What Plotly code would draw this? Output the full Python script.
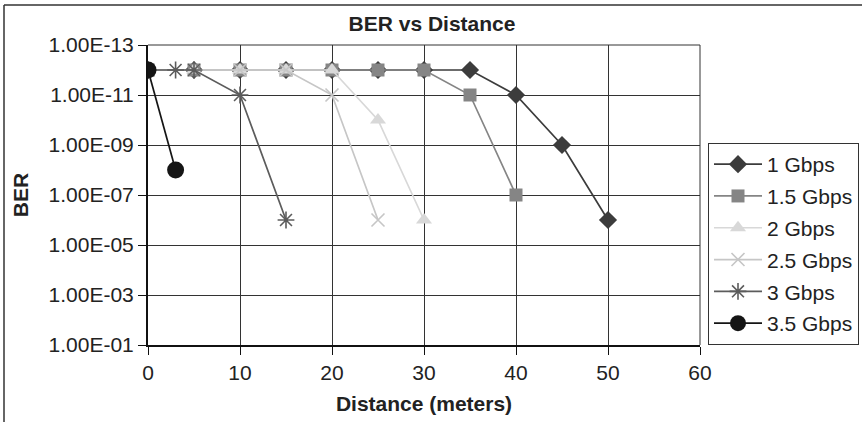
import plotly.graph_objects as go

# Data
series_names = ["1 Gbps", "1.5 Gbps", "2 Gbps", "2.5 Gbps", "3 Gbps", "3.5 Gbps"]
x_1 = [0, 5, 10, 15, 20, 25, 30, 35, 40, 45, 50]
y_1 = [1e-12, 1e-12, 1e-12, 1e-12, 1e-12, 1e-12, 1e-12, 1e-12, 1e-11, 1e-9, 1e-6]
x_15 = [0, 5, 10, 15, 20, 25, 30, 35, 40]
y_15 = [1e-12, 1e-12, 1e-12, 1e-12, 1e-12, 1e-12, 1e-12, 1e-11, 1e-7]
x_2 = [0, 5, 10, 15, 20, 25, 30]
y_2 = [1e-12, 1e-12, 1e-12, 1e-12, 1e-12, 1e-10, 1e-6]
x_25 = [0, 5, 10, 15, 20, 25]
y_25 = [1e-12, 1e-12, 1e-12, 1e-12, 1e-11, 1e-6]
x_3 = [0, 3, 5, 10, 15]
y_3 = [1e-12, 1e-12, 1e-12, 1e-11, 1e-6]
x_35 = [0, 3]
y_35 = [1e-12, 1e-8]

y_tickvals = [1e-13, 1e-11, 1e-9, 1e-7, 1e-5, 1e-3, 1e-1]
y_ticktext = ["1.00E-13", "1.00E-11", "1.00E-09", "1.00E-07", "1.00E-05", "1.00E-03", "1.00E-01"]
x_tickvals = [0, 10, 20, 30, 40, 50, 60]

xs = [x_1, x_15, x_2, x_25, x_3, x_35]
ys = [y_1, y_15, y_2, y_25, y_3, y_35]
colors = ["#3c3c3c", "#858585", "#d8d8d8", "#c6c6c6", "#5c5c5c", "#151515"]
symbols = ["diamond", "square", "triangle-up", "x-thin-open", "asterisk-open", "circle"]
sizes = [14, 13, 14, 13, 14, 17]

fig = go.Figure()
for i, (name, x, y, c, s, sz) in enumerate(zip(series_names, xs, ys, colors, symbols, sizes)):
    mk = dict(symbol=s, size=sz, color=c)
    if s in ("x-thin-open", "asterisk-open"):
        mk["line"] = dict(color=c, width=1.6)
    else:
        mk["line"] = dict(width=0)
    fig.add_trace(go.Scatter(x=x, y=y, name=name, mode="lines+markers", legendgroup=f"g{i}",
                             line=dict(color=c, width=1.7), marker=mk))

W, H = 862, 422
L, R, T, B = 148, 700, 45, 345
def px(p):
    return (p - L) / (R - L)
def py(p):
    return (B - p) / (B - T)

FS = 21
font = "Liberation Sans, Arial, sans-serif"
fig.update_layout(
    width=W, height=H,
    margin=dict(l=L, r=W - R, t=T, b=H - B, autoexpand=False),
    paper_bgcolor="white", plot_bgcolor="white",
    font=dict(family=font, size=FS, color="#222"),
    title=dict(text="<b>BER vs Distance</b>", x=432 / W, xanchor="center",
               y=1 - 24 / H, yanchor="middle", font=dict(size=FS, color="#222")),
    showlegend=True,
    legend=dict(x=px(708), xanchor="left", y=0, yanchor="bottom",
                bordercolor="#333", borderwidth=1, bgcolor="white",
                font=dict(size=FS, color="#222"), tracegroupgap=1.5, itemwidth=48),
    xaxis=dict(range=[0, 60], tickvals=x_tickvals, showgrid=True,
               gridcolor="#333", gridwidth=1, showline=True, linecolor="#111",
               linewidth=2, ticks="outside", ticklen=8, tickcolor="#111",
               zeroline=False, tickfont=dict(size=FS),
               title=dict(text="<b>Distance (meters)</b>", font=dict(size=FS), standoff=13)),
    yaxis=dict(type="log", range=[-1, -13], tickvals=y_tickvals, ticktext=y_ticktext,
               showgrid=True, gridcolor="#333", gridwidth=1, showline=True,
               linecolor="#111", linewidth=2, ticks="outside", ticklen=8,
               tickcolor="#111", zeroline=False, tickfont=dict(size=FS),
               title=dict(text="<b>BER</b>", font=dict(size=FS), standoff=14)),
    shapes=[
        dict(type="line", xref="paper", yref="paper", x0=px(4), x1=px(862), y0=py(5), y1=py(5),
             line=dict(color="#333", width=1.5)),
        dict(type="line", xref="paper", yref="paper", x0=px(4), x1=px(4), y0=py(5), y1=py(422),
             line=dict(color="#333", width=1.5)),
        dict(type="line", xref="paper", yref="paper", x0=1, x1=1, y0=0, y1=1,
             line=dict(color="#333", width=1)),
        dict(type="line", xref="paper", yref="paper", x0=0, x1=1, y0=1, y1=1,
             line=dict(color="#333", width=1)),
    ],
)

fig.write_html("out.html", config={"displayModeBar": False},
               post_script="document.body.style.margin='0';")
